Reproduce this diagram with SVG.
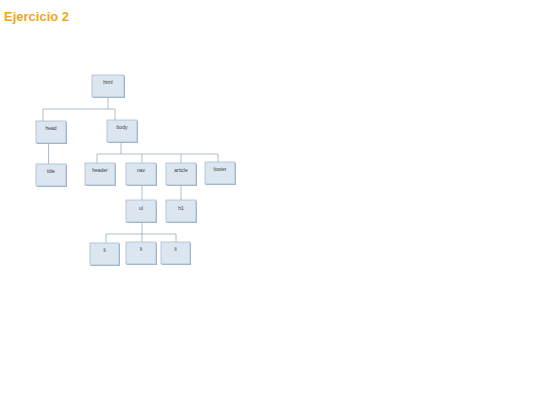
<svg xmlns="http://www.w3.org/2000/svg" width="540" height="405" viewBox="0 0 540 405">
<style>
.title{font-family:"Liberation Sans",Arial,sans-serif;font-weight:bold;font-size:13px;fill:#f2a71b}
.box{fill:#dce6f1;stroke:#a9bccf;stroke-width:0.8}
.sh{fill:#9fb3c6}
.lbl{font-family:"Liberation Sans",Arial,sans-serif;font-size:5px;fill:#3a3a3a;text-anchor:middle}
.ln{stroke:#a3b6c6;stroke-width:0.9;fill:none}
</style>
<rect width="540" height="405" fill="#ffffff"/>
<text class="title" x="4" y="21">Ejercicio 2</text>
<g id="connectors">
<path class="ln" d="M108,97 V109 M43,109 H115 M43,109 V121 M115,109 V120"/>
<path class="ln" d="M48.5,143 V164"/>
<path class="ln" d="M121,142 V154 M97,154 H218 M97,154 V163 M142,154 V163 M181,154 V163 M218,154 V162"/>
<path class="ln" d="M142,186 V200 M181,186 V200"/>
<path class="ln" d="M142,223 V234 M106,234 H176 M106,234 V243 M142,234 V242 M176,234 V242"/>
</g>
<g id="n-html"><rect class="sh" x="93" y="76" width="32" height="22"/><rect class="box" x="92" y="75" width="32" height="22"/><text class="lbl" x="108" y="84">html</text></g>
<g id="n-head"><rect class="sh" x="37" y="122" width="30" height="22"/><rect class="box" x="36" y="121" width="30" height="22"/><text class="lbl" x="51" y="130">head</text></g>
<g id="n-body"><rect class="sh" x="108" y="121" width="30" height="22"/><rect class="box" x="107" y="120" width="30" height="22"/><text class="lbl" x="122" y="129">body</text></g>
<g id="n-title"><rect class="sh" x="37" y="165" width="30" height="22"/><rect class="box" x="36" y="164" width="30" height="22"/><text class="lbl" x="51" y="173">title</text></g>
<g id="n-header"><rect class="sh" x="86" y="164" width="30" height="22"/><rect class="box" x="85" y="163" width="30" height="22"/><text class="lbl" x="100" y="172">header</text></g>
<g id="n-nav"><rect class="sh" x="127" y="164" width="30" height="22"/><rect class="box" x="126" y="163" width="30" height="22"/><text class="lbl" x="141" y="172">nav</text></g>
<g id="n-article"><rect class="sh" x="167" y="164" width="30" height="22"/><rect class="box" x="166" y="163" width="30" height="22"/><text class="lbl" x="181" y="172">article</text></g>
<g id="n-footer"><rect class="sh" x="206" y="163" width="30" height="22"/><rect class="box" x="205" y="162" width="30" height="22"/><text class="lbl" x="220" y="171">footer</text></g>
<g id="n-ul"><rect class="sh" x="127" y="201" width="30" height="22"/><rect class="box" x="126" y="200" width="30" height="22"/><text class="lbl" x="141" y="210">ul</text></g>
<g id="n-h1"><rect class="sh" x="167" y="201" width="30" height="22"/><rect class="box" x="166" y="200" width="30" height="22"/><text class="lbl" x="181" y="210">h1</text></g>
<g id="n-li1"><rect class="sh" x="91" y="244" width="29" height="22"/><rect class="box" x="90" y="243" width="29" height="22"/><text class="lbl" x="104.5" y="252">li</text></g>
<g id="n-li2"><rect class="sh" x="127" y="243" width="30" height="22"/><rect class="box" x="126" y="242" width="30" height="22"/><text class="lbl" x="141" y="251">li</text></g>
<g id="n-li3"><rect class="sh" x="162" y="243" width="29" height="22"/><rect class="box" x="161" y="242" width="29" height="22"/><text class="lbl" x="175.5" y="251">li</text></g>
</svg>
